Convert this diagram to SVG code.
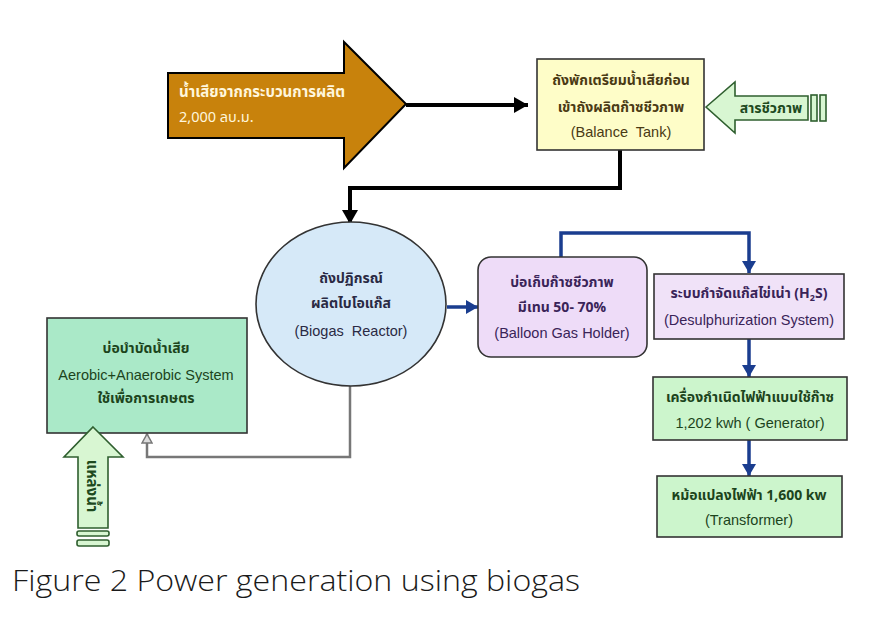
<svg xmlns="http://www.w3.org/2000/svg" width="881" height="626" viewBox="0 0 881 626">
<defs>
<style>
.th{font-family:"Noto Sans Thai","Tahoma","Liberation Sans","DejaVu Sans",sans-serif;font-size:14px;font-weight:bold;text-anchor:middle}
.en{font-family:"Liberation Sans",Arial,sans-serif;font-size:14.5px;text-anchor:middle}
.box{stroke:#333;stroke-width:1.6}
.blk{fill:none;stroke:#000;stroke-width:4}
.blu{fill:none;stroke:#1a3d8f;stroke-width:3.5}
.gry{fill:none;stroke:#777;stroke-width:2.5}
.garrow{fill:#d8f6d2;stroke:#2f5f2f;stroke-width:1.6}
</style>
<marker id="mBlack" markerUnits="userSpaceOnUse" markerWidth="16" markerHeight="16" refX="14" refY="8" orient="auto" viewBox="0 0 16 16"><path d="M0,0 L14,8 L0,16 z" fill="#000"/></marker>
<marker id="mBlue" markerUnits="userSpaceOnUse" markerWidth="14" markerHeight="14" refX="12" refY="7" orient="auto" viewBox="0 0 14 14"><path d="M0,0 L12,7 L0,14 z" fill="#1a3d8f"/></marker>
<marker id="mGray" markerUnits="userSpaceOnUse" markerWidth="12" markerHeight="12" refX="10" refY="6" orient="auto" viewBox="0 0 12 12"><path d="M1,1 L10,6 L1,11 z" fill="#ddd" stroke="#777" stroke-width="1.5"/></marker>
</defs>
<rect width="881" height="626" fill="#fff"/>

<g id="connectors">
<path class="blk" d="M406,105 H528" marker-end="url(#mBlack)"/>
<path class="blk" d="M620,150 V188 H350 V224" marker-end="url(#mBlack)"/>
<path class="blu" d="M447,307 H478" marker-end="url(#mBlue)"/>
<path class="blu" d="M561,257 V233 H749 V273" marker-end="url(#mBlue)"/>
<path class="blu" d="M749,339 V377" marker-end="url(#mBlue)"/>
<path class="blu" d="M749,440 V476" marker-end="url(#mBlue)"/>
<path class="gry" d="M350,386 V457 H147 V434" marker-end="url(#mGray)"/>
</g>

<g id="wastewater-input">
<polygon points="168,73 344,73 344,42 406,104 344,168 344,138 168,138" fill="#c8820c" stroke="#000" stroke-width="2"/>
<text class="th" x="179" y="97" fill="#fff6dc" style="text-anchor:start;font-size:15px">น้ำเสียจากกระบวนการผลิต</text>
<text class="th" x="179" y="122" fill="#fff6dc" style="text-anchor:start;font-weight:normal;font-size:14.5px">2,000 ลบ.ม.</text>
</g>

<g id="balance-tank">
<rect class="box" x="537" y="59" width="167" height="91" fill="#fefdc8"/>
<text class="th" x="621" y="85" fill="#4a3a14">ถังพักเตรียมน้ำเสียก่อน</text>
<text class="th" x="621" y="112" fill="#4a3a14">เข้าถังผลิตก๊าซชีวภาพ</text>
<text class="en" x="621" y="137" fill="#4a3a14" xml:space="preserve">(Balance  Tank)</text>
</g>

<g id="bio-substance">
<polygon class="garrow" points="706,107 735,82 735,96 808,96 808,120 735,120 735,133"/>
<rect class="garrow" x="811" y="95" width="6" height="26"/>
<rect class="garrow" x="820" y="95" width="6" height="26"/>
<text class="th" x="771" y="113" fill="#1e4a1e">สารชีวภาพ</text>
</g>

<g id="biogas-reactor">
<ellipse class="box" cx="351" cy="304" rx="95" ry="82" fill="#d6e9f8" stroke="#3a4a5a"/>
<text class="th" x="351" y="283" fill="#2a2a44">ถังปฏิกรณ์</text>
<text class="th" x="351" y="308" fill="#2a2a44">ผลิตไบโอแก๊ส</text>
<text class="en" x="351" y="336" fill="#2a2a44" xml:space="preserve">(Biogas  Reactor)</text>
</g>

<g id="balloon-gas-holder">
<rect class="box" x="478" y="257" width="169" height="100" rx="13" fill="#eedcf8" stroke="#4a3a5a"/>
<text class="th" x="562" y="287" fill="#3a2458">บ่อเก็บก๊าซชีวภาพ</text>
<text class="th" x="562" y="312" fill="#3a2458">มีเทน 50- 70%</text>
<text class="en" x="562" y="338" fill="#3a2458">(Balloon Gas Holder)</text>
</g>

<g id="desulphurization">
<rect class="box" x="654" y="274" width="190" height="65" fill="#f0e2f8"/>
<text class="th" x="749" y="298" fill="#3a2458">ระบบกำจัดแก๊สไข่เน่า (H<tspan font-size="9" dy="3">2</tspan><tspan dy="-3">S)</tspan></text>
<text class="en" x="749" y="325" fill="#3a2458">(Desulphurization System)</text>
</g>

<g id="generator">
<rect class="box" x="653" y="377" width="194" height="63" fill="#ccf5cc"/>
<text class="th" x="750" y="402" fill="#1c441c">เครื่องกำเนิดไฟฟ้าแบบใช้ก๊าซ</text>
<text class="en" x="750" y="428" fill="#1c441c">1,202 kwh ( Generator)</text>
</g>

<g id="transformer">
<rect class="box" x="657" y="476" width="185" height="61" fill="#ccf5cc"/>
<text class="th" x="749" y="500" fill="#1c441c">หม้อแปลงไฟฟ้า 1,600 kw</text>
<text class="en" x="749" y="525" fill="#1c441c">(Transformer)</text>
</g>

<g id="treatment-pond">
<rect class="box" x="47" y="318" width="200" height="115" fill="#aae9c8"/>
<text class="th" x="146" y="353" fill="#1c441c">บ่อบำบัดน้ำเสีย</text>
<text class="en" x="146" y="380" fill="#1c441c">Aerobic+Anaerobic System</text>
<text class="th" x="146" y="403" fill="#1c441c">ใช้เพื่อการเกษตร</text>
</g>

<g id="water-source">
<polygon class="garrow" points="93,427 123,457 108,457 108,528 78,528 78,457 64,457"/>
<rect class="garrow" x="77" y="531" width="32" height="5" rx="2"/>
<rect class="garrow" x="77" y="540" width="32" height="6" rx="2"/>
<text class="th" x="0" y="0" fill="#1e4a1e" transform="translate(87,486) rotate(90)" style="font-size:15px">แหล่งน้ำ</text>
</g>

<text x="12" y="591" font-family="'Open Sans','Liberation Sans',sans-serif" font-weight="300" font-size="29" fill="#1a1a1a" textLength="568" lengthAdjust="spacingAndGlyphs">Figure 2 Power generation using biogas</text>
</svg>
